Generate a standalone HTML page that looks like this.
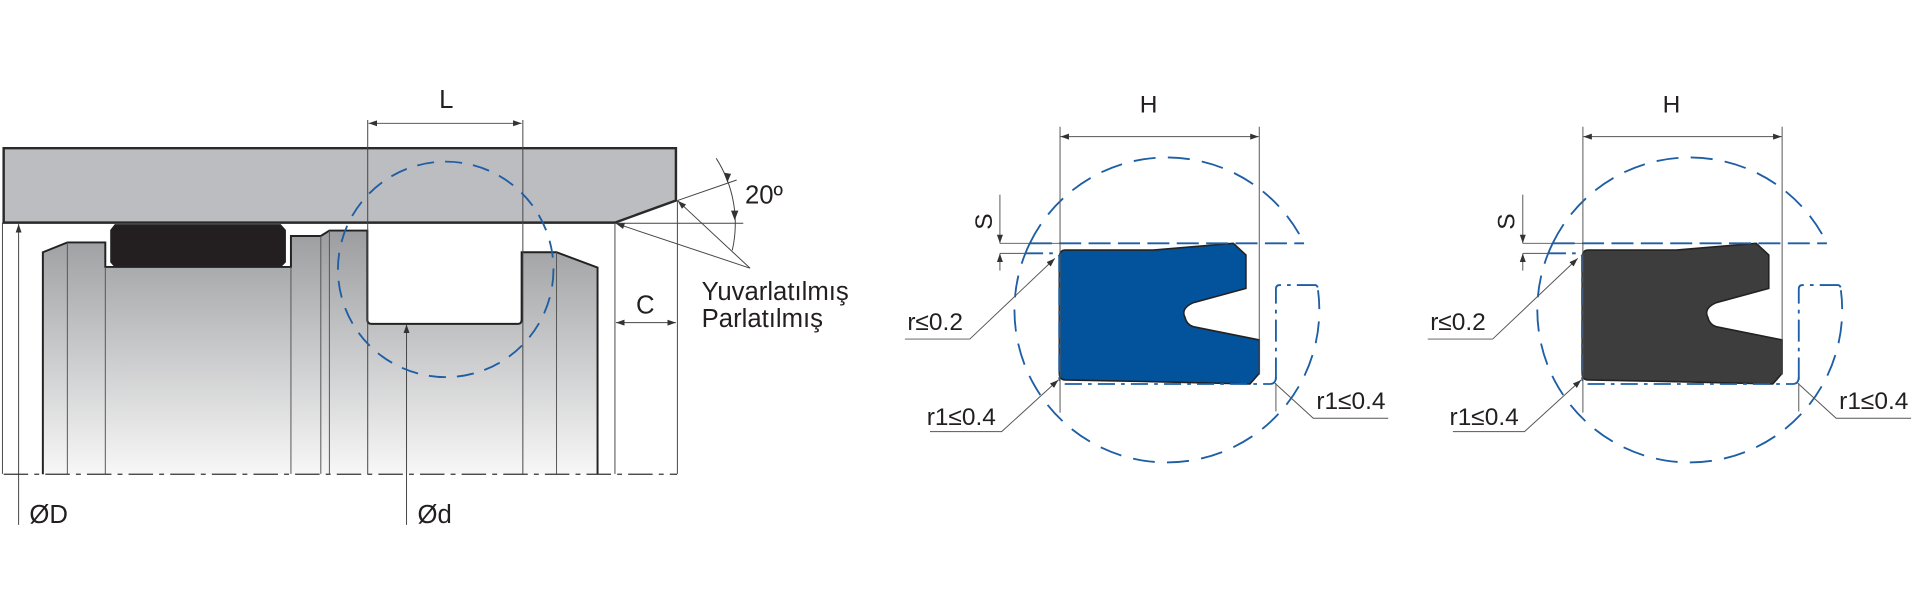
<!DOCTYPE html>
<html><head><meta charset="utf-8"><style>
html,body{margin:0;padding:0;background:#fff;}
svg{display:block;}
text{font-family:"Liberation Sans",Arial,sans-serif;fill:#231f20;}
</style></head><body>
<svg width="1920" height="600" viewBox="0 0 1568 490" xmlns="http://www.w3.org/2000/svg">
<defs>
<linearGradient id="g" x1="0" y1="0" x2="0" y2="1">
<stop offset="0" stop-color="#9c9da0"/><stop offset="1" stop-color="#f7f7f7"/>
</linearGradient>
<marker id="a" viewBox="0 0 10 10" refX="10" refY="5" markerWidth="7" markerHeight="7" orient="auto-start-reverse" markerUnits="userSpaceOnUse">
<path d="M0,1.5 L10,5 L0,8.5 z" fill="#333"/></marker>
<g id="seal">
<path d="M869.7,204.2 L941.8,204.2 L1007.2,198.7 L1017.5,208.2 L1017.5,235.5 L974.5,247.2 Q964,252 967.7,259 Q969,265 974.5,266.8 L1028.4,277.6 L1028.4,304.9 L1020.8,313.6 L941.8,311.7 L869.7,310.3 Q865.1,310 865.1,304.9 L865.1,209.6 Q865.5,204.2 869.7,204.2 Z" stroke="#222" stroke-width="1.3"/>
</g>
<g id="detail" fill="none">
<g stroke="#1d5ea5" stroke-width="1.5">
<path d="M841,198.7 A124.5,124.5 0 0 1 1065,198.7" stroke-dasharray="18 10"/>
<path d="M841,198.7 A124.5,124.5 0 1 0 1076.4,237" stroke-dasharray="18 10"/>
<path d="M841,198.7 L1065,198.7" stroke-dasharray="18 6"/>
<path d="M1042,310 L1042,236 Q1042,232.8 1045,232.8 L1074,232.8 Q1076.4,233 1076.4,237" stroke-dasharray="18 5 3 5"/>
<path d="M1042,308 Q1042,313.6 1037,313.6 L870,313.6 Q865,313.6 865,308 L865,210 Q865,206.9 861,206.9 L836,206.9" stroke-dasharray="14 5 3 5"/>
</g>
<g stroke="#555" stroke-width="0.8">
<line x1="865.7" y1="103.5" x2="865.7" y2="337"/>
<line x1="1028.4" y1="103.5" x2="1028.4" y2="306"/>
<line x1="1042" y1="313" x2="1042" y2="336"/>
<line x1="866" y1="111.6" x2="1028" y2="111.6" marker-start="url(#a)" marker-end="url(#a)"/>
<line x1="816.6" y1="159" x2="816.6" y2="198.7" marker-end="url(#a)"/>
<line x1="816.6" y1="198.7" x2="866" y2="198.7"/>
<line x1="816.6" y1="206.9" x2="840" y2="206.9"/>
<line x1="816.6" y1="221" x2="816.6" y2="207" marker-end="url(#a)"/>
<polyline points="739,276.9 792,276.9 861.5,211" marker-end="url(#a)"/>
<polyline points="759.5,352.5 818,352.5 864.3,310.3" marker-end="url(#a)"/>
<polyline points="1133.7,341.6 1072.5,341.6 1041.2,313"/>
</g>
<text x="938" y="92" font-size="20" text-anchor="middle">H</text>
<text transform="translate(810,181) rotate(-90)" font-size="20" text-anchor="middle">S</text>
<text x="741" y="269.5" font-size="20">r≤0.2</text>
<text x="756.8" y="347" font-size="20">r1≤0.4</text>
<text x="1075" y="334" font-size="20">r1≤0.4</text>
</g>
</defs>

<!-- LEFT DRAWING -->
<path d="M35,387.3 L35,206 L55,198 L86,198 L86,218 L237.6,218 L237.6,192.7 L262,192.7 L269,188.3 L300,188.3 L300,261 Q300,264.5 303.5,264.5 L423,264.5 Q426,264.5 426,261 L426,206 L454.5,206 L488,218.5 L488,387.3 Z" fill="url(#g)" stroke="none"/>
<path d="M35,387.3 L35,206 L55,198 L86,198 L86,218 L237.6,218 L237.6,192.7 L262,192.7 L269,188.3 L300,188.3 L300,261 Q300,264.5 303.5,264.5 L423,264.5 Q426,264.5 426,261 L426,206 L454.5,206 L488,218.5 L488,387.3" fill="none" stroke="#222" stroke-width="1.6"/>
<g stroke="#555" stroke-width="0.8">
<line x1="55" y1="198" x2="55" y2="387"/>
<line x1="86" y1="218" x2="86" y2="387"/>
<line x1="237.6" y1="218" x2="237.6" y2="387"/>
<line x1="262" y1="192.7" x2="262" y2="387"/>
<line x1="269" y1="188.3" x2="269" y2="387"/>
<line x1="454.5" y1="206" x2="454.5" y2="387"/>
</g>
<path d="M94,183.5 L229,183.5 L233,188 L233,214 L229,218 L94,218 L90.5,214 L90.5,188 Z" fill="#231f20" stroke="#222" stroke-width="1"/>
<path d="M3,121 L552,121 L552,163.8 L502.2,181.8 L3,181.8 Z" fill="#bcbdc0" stroke="#2a2a2a" stroke-width="2"/>
<g stroke="#444" stroke-width="0.8" fill="none">
<line x1="2" y1="181.8" x2="2" y2="387"/>
<line x1="502.2" y1="182" x2="502.2" y2="387"/>
<line x1="553.2" y1="163.8" x2="553.2" y2="387"/>
<line x1="300.3" y1="98" x2="300.3" y2="387"/>
<line x1="427" y1="98" x2="427" y2="387"/>
<line x1="301" y1="100.7" x2="426" y2="100.7" marker-start="url(#a)" marker-end="url(#a)"/>
<line x1="503" y1="263.5" x2="552" y2="263.5" marker-start="url(#a)" marker-end="url(#a)"/>
<line x1="15.2" y1="428.6" x2="15.2" y2="183" marker-end="url(#a)"/>
<line x1="332" y1="428.6" x2="332" y2="265" marker-end="url(#a)"/>
<line x1="502.2" y1="182.3" x2="607" y2="182.3"/>
<line x1="553.2" y1="163.8" x2="601.6" y2="147"/>
<path d="M584.9,129.3 A98.5,98.5 0 0 1 598,204.5"/>
<line x1="612.5" y1="219" x2="553.5" y2="164" marker-end="url(#a)"/>
<line x1="612.5" y1="219" x2="503" y2="182.5" marker-end="url(#a)"/>
</g>
<path d="M594,149 l-3,-8 l6,1 z M600,180 l-3,-8 l6,0 z" fill="#333"/>
<line x1="3" y1="387.3" x2="553" y2="387.3" stroke="#333" stroke-width="1" stroke-dasharray="20 5 4 5"/>
<circle cx="364" cy="220" r="88" fill="none" stroke="#1d5ea5" stroke-width="1.5" stroke-dasharray="14 9"/>
<text x="364.5" y="88.4" font-size="21" text-anchor="middle">L</text>
<text x="527" y="256" font-size="21" text-anchor="middle">C</text>
<text x="24" y="427.3" font-size="21">ØD</text>
<text x="341" y="427.3" font-size="21">Ød</text>
<text x="608.4" y="166" font-size="21">20º</text>
<text x="573" y="245" font-size="21">Yuvarlatılmış</text>
<text x="573" y="267" font-size="21">Parlatılmış</text>

<!-- MIDDLE -->
<use href="#seal" fill="#03529c"/>
<use href="#detail"/>
<!-- RIGHT -->
<use href="#seal" fill="#3d3d3d" transform="translate(427,0)"/>
<use href="#detail" transform="translate(427,0)"/>
</svg>
</body></html>
